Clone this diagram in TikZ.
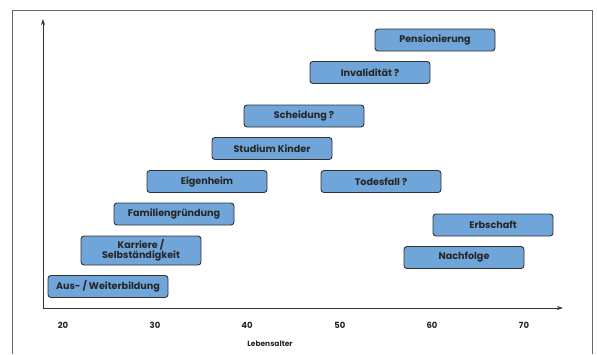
\documentclass[tikz,border=0pt]{standalone}
\usepackage{fontspec}
\setmainfont{Poppins}[BoldFont={Poppins Bold}]
\usetikzlibrary{arrows.meta}
\definecolor{boxblue}{RGB}{111,165,216}
\definecolor{lineg}{RGB}{50,50,50}
\tikzset{
  evt/.style={draw=lineg, line width=0.9pt, fill=boxblue, rounded corners=3pt,
    minimum width=120pt, minimum height=22pt, inner sep=0pt, align=center,
    font=\fontsize{9.6}{10.5}\selectfont\bfseries, text=black!85},
  tick/.style={font=\fontsize{8.5}{9}\selectfont\bfseries, text=black!85, inner sep=0pt},
  axis/.style={line width=1pt, draw=lineg, -{Stealth[length=6pt,width=4pt]}}
}
\begin{document}
\begin{tikzpicture}[x=1pt,y=-1pt]
\useasboundingbox (0,0) rectangle (597,354);
% frame
\draw[line width=1pt, draw=black!60] (12,354) -- (12,10) -- (592,10) -- (592,354);
% axes
\coordinate (o) at (43,308);
\coordinate (ytop) at (43,19);
\coordinate (xend) at (563,308);
\draw[axis] (o) -- (ytop);
\draw[axis] (o) -- (xend);
% ticks
\node[tick] (t20) at (63,325) {20};
\node[tick] (t30) at (155,325) {30};
\node[tick] (t40) at (247,325) {40};
\node[tick] (t50) at (340,325) {50};
\node[tick] (t60) at (432,325) {60};
\node[tick] (t70) at (524,325) {70};
\node[tick, font=\fontsize{7.5}{8}\selectfont\bfseries] (lab) at (270,344) {Lebensalter};
% events
\node[evt] (pens) at (435,40) {Pensionierung};
\node[evt] (inv) at (370,72.5) {Invalidität ?};
\node[evt] (sch) at (304,116) {Scheidung ?};
\node[evt] (stu) at (272,148.5) {Studium Kinder};
\node[evt] (eig) at (207,181.5) {Eigenheim};
\node[evt] (tod) at (381,181.5) {Todesfall ?};
\node[evt] (fam) at (174,214) {Familiengründung};
\node[evt, minimum height=29pt] (kar) at (141,250.5) {Karriere /\\Selbständigkeit};
\node[evt] (aus) at (108,286.5) {Aus- / Weiterbildung};
\node[evt] (erb) at (493,225) {Erbschaft};
\node[evt] (nach) at (464,257.5) {Nachfolge};
\end{tikzpicture}
\end{document}
